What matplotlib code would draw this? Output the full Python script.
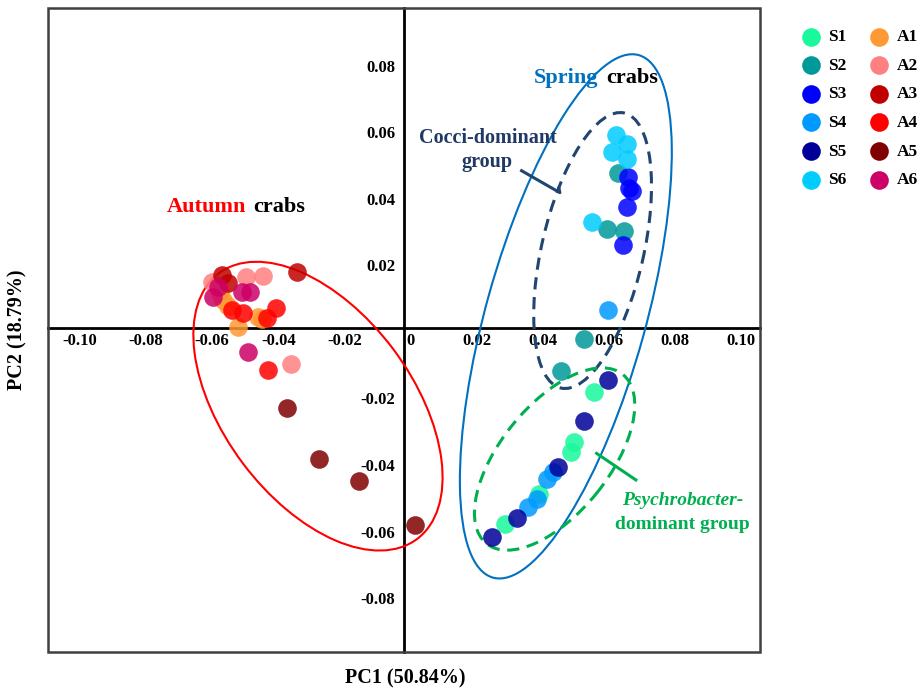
import matplotlib
matplotlib.use("Agg")
import matplotlib.pyplot as plt
from matplotlib.patches import Ellipse, Rectangle

plt.rcParams['font.family'] = ['Liberation Serif', 'DejaVu Serif']
plt.rcParams['font.weight'] = 'bold'
plt.rcParams['axes.unicode_minus'] = False

# PCA scores (PC1, PC2)
S1_pc1 = [0.0556, 0.0496, 0.0486, 0.0389, 0.0286]
S1_pc2 = [-0.0180, -0.0332, -0.0360, -0.0488, -0.0577]
S2_pc1 = [0.0629, 0.0594, 0.0647, 0.0525, 0.0455]
S2_pc2 = [0.0479, 0.0309, 0.0304, -0.0021, -0.0116]
S3_pc1 = [0.0659, 0.0661, 0.0669, 0.0654, 0.0644]
S3_pc2 = [0.0467, 0.0432, 0.0425, 0.0375, 0.0262]
S4_pc1 = [0.0598, 0.0430, 0.0414, 0.0382, 0.0356]
S4_pc2 = [0.0066, -0.0420, -0.0443, -0.0503, -0.0527]
S5_pc1 = [0.0597, 0.0526, 0.0447, 0.0321, 0.0246]
S5_pc2 = [-0.0144, -0.0268, -0.0405, -0.0560, -0.0617]
S6_pc1 = [0.0622, 0.0656, 0.0609, 0.0654, 0.0548]
S6_pc2 = [0.0592, 0.0565, 0.0540, 0.0519, 0.0332]

A1_pc1 = [-0.0576, -0.0566, -0.0551, -0.0461, -0.0450, -0.0521]
A1_pc2 = [0.0116, 0.0096, 0.0078, 0.0044, 0.0038, 0.0016]
A2_pc1 = [-0.0602, -0.0499, -0.0445, -0.0362]
A2_pc2 = [0.0151, 0.0166, 0.0168, -0.0097]
A3_pc1 = [-0.0571, -0.0551, -0.0344]
A3_pc2 = [0.0171, 0.0146, 0.0181]
A4_pc1 = [-0.0539, -0.0506, -0.0408, -0.0433, -0.0430]
A4_pc2 = [0.0066, 0.0058, 0.0071, 0.0041, -0.0114]
A5_pc1 = [-0.0375, -0.0276, -0.0156, 0.0014]
A5_pc2 = [-0.0229, -0.0383, -0.0448, -0.0580]
A6_pc1 = [-0.0582, -0.0597, -0.0511, -0.0486, -0.0493]
A6_pc2 = [0.0136, 0.0106, 0.0121, 0.0119, -0.0059]

labels = ["S1", "S2", "S3", "S4", "S5", "S6", "A1", "A2", "A3", "A4", "A5", "A6"]
colors = ["#19F99B", "#009999", "#0000FF", "#0099FF", "#000099", "#00CCFF",
          "#FF9933", "#FF8080", "#C00000", "#FF0000", "#800000", "#CC0066"]
xs = [S1_pc1, S2_pc1, S3_pc1, S4_pc1, S5_pc1, S6_pc1,
      A1_pc1, A2_pc1, A3_pc1, A4_pc1, A5_pc1, A6_pc1]
ys = [S1_pc2, S2_pc2, S3_pc2, S4_pc2, S5_pc2, S6_pc2,
      A1_pc2, A2_pc2, A3_pc2, A4_pc2, A5_pc2, A6_pc2]

xticks = [-0.10, -0.08, -0.06, -0.04, -0.02, 0, 0.02, 0.04, 0.06, 0.08, 0.10]
yticks = [-0.08, -0.06, -0.04, -0.02, 0.02, 0.04, 0.06, 0.08]

fig = plt.figure(figsize=(9.17, 6.88), dpi=100)
ax = fig.add_axes([0.0523, 0.0523, 0.7765, 0.9361])
ax.set_xlim(-0.1097, 0.10575)
ax.set_ylim(-0.09624, 0.09744)

for lab, x, y, c in zip(labels, xs, ys, colors):
    ax.scatter(x, y, s=180, color=c, alpha=0.85, linewidths=0, label=lab, zorder=3)

# group ellipses
ax.add_patch(Ellipse((-0.0280, -0.0223), 0.0999, 0.0570, angle=-53,
                     fill=False, ec="#FF0000", lw=1.5, zorder=2))
ax.add_patch(Ellipse((0.0470, 0.0047), 0.1632, 0.0483, angle=74.3,
                     fill=False, ec="#0070C0", lw=1.5, zorder=2))
ax.add_patch(Ellipse((0.0551, 0.0245), 0.0849, 0.0308, angle=76.9,
                     fill=False, ec="#1F4570", lw=2.2, ls=(0, (4, 2.5)), zorder=2))
ax.add_patch(Ellipse((0.0436, -0.0382), 0.0655, 0.0327, angle=50.85,
                     fill=False, ec="#00B050", lw=2.2, ls=(0, (4, 2.5)), zorder=2))

# pointer lines
ax.plot([0.0336, 0.0452, 0.0449], [0.0485, 0.0419, 0.0433], color="#1F4570", lw=2.2)
ax.plot([0.0563, 0.0682], [-0.0365, -0.0445], color="#00B050", lw=2.2)

# annotations
ax.text(-0.0496, 0.0362, "Autumn", color="#FF0000", fontsize=16, ha="right", va="baseline")
ax.text(-0.0477, 0.0362, "crabs", color="black", fontsize=16, ha="left", va="baseline")
ax.text(0.0567, 0.0749, "Spring", color="#0070C0", fontsize=16, ha="right", va="baseline")
ax.text(0.0592, 0.0749, "crabs", color="black", fontsize=16, ha="left", va="baseline")
ax.text(0.0233, 0.0569, "Cocci-dominant", color="#1F3864", fontsize=14.5, ha="center", va="baseline")
ax.text(0.0233, 0.0497, "group", color="#1F3864", fontsize=14.5, ha="center", va="baseline")
ax.text(0.0824, -0.0520, "Psychrobacter-", color="#00B050", fontsize=14, style="italic",
        ha="center", va="baseline")
ax.text(0.0824, -0.0592, "dominant group", color="#00B050", fontsize=14, ha="center", va="baseline")

# centre axes
for side in ["top", "right"]:
    ax.spines[side].set_visible(False)
ax.spines["left"].set_position(("data", -0.0021))
ax.spines["bottom"].set_position(("data", 0.0013))
for side in ["left", "bottom"]:
    ax.spines[side].set_linewidth(2)
    ax.spines[side].set_color("black")
    ax.spines[side].set_zorder(1)
ax.add_patch(Rectangle((0, 0), 1, 1, transform=ax.transAxes, fill=False,
                       ec="#404040", lw=1.8, clip_on=False, zorder=5))

ax.set_xticks(xticks)
ax.set_xticklabels(["0" if t == 0 else "%.2f" % t for t in xticks])
ax.set_yticks(yticks)
ax.set_yticklabels(["%.2f" % t for t in yticks])
ax.tick_params(axis="both", length=0, labelsize=12)
ax.tick_params(axis="x", pad=4)
ax.tick_params(axis="y", pad=6)

fig.text(405 / 917, 1 - 678 / 688, "PC1 (50.84%)", fontsize=14.5, ha="center", va="center")
fig.text(17 / 917, 1 - 330 / 688, "PC2 (18.79%)", fontsize=14.5, ha="center", va="center",
         rotation=90)

leg = fig.legend(loc="upper left", bbox_to_anchor=(795 / 917, 1 - 22 / 688), ncol=2,
                 frameon=False, fontsize=12.5, handlelength=1.0, handletextpad=0.5,
                 columnspacing=1.4, labelspacing=0.72, borderaxespad=0, scatterpoints=1)
for h in leg.legend_handles:
    h.set_alpha(1)

fig.savefig("out.png", dpi=100)
